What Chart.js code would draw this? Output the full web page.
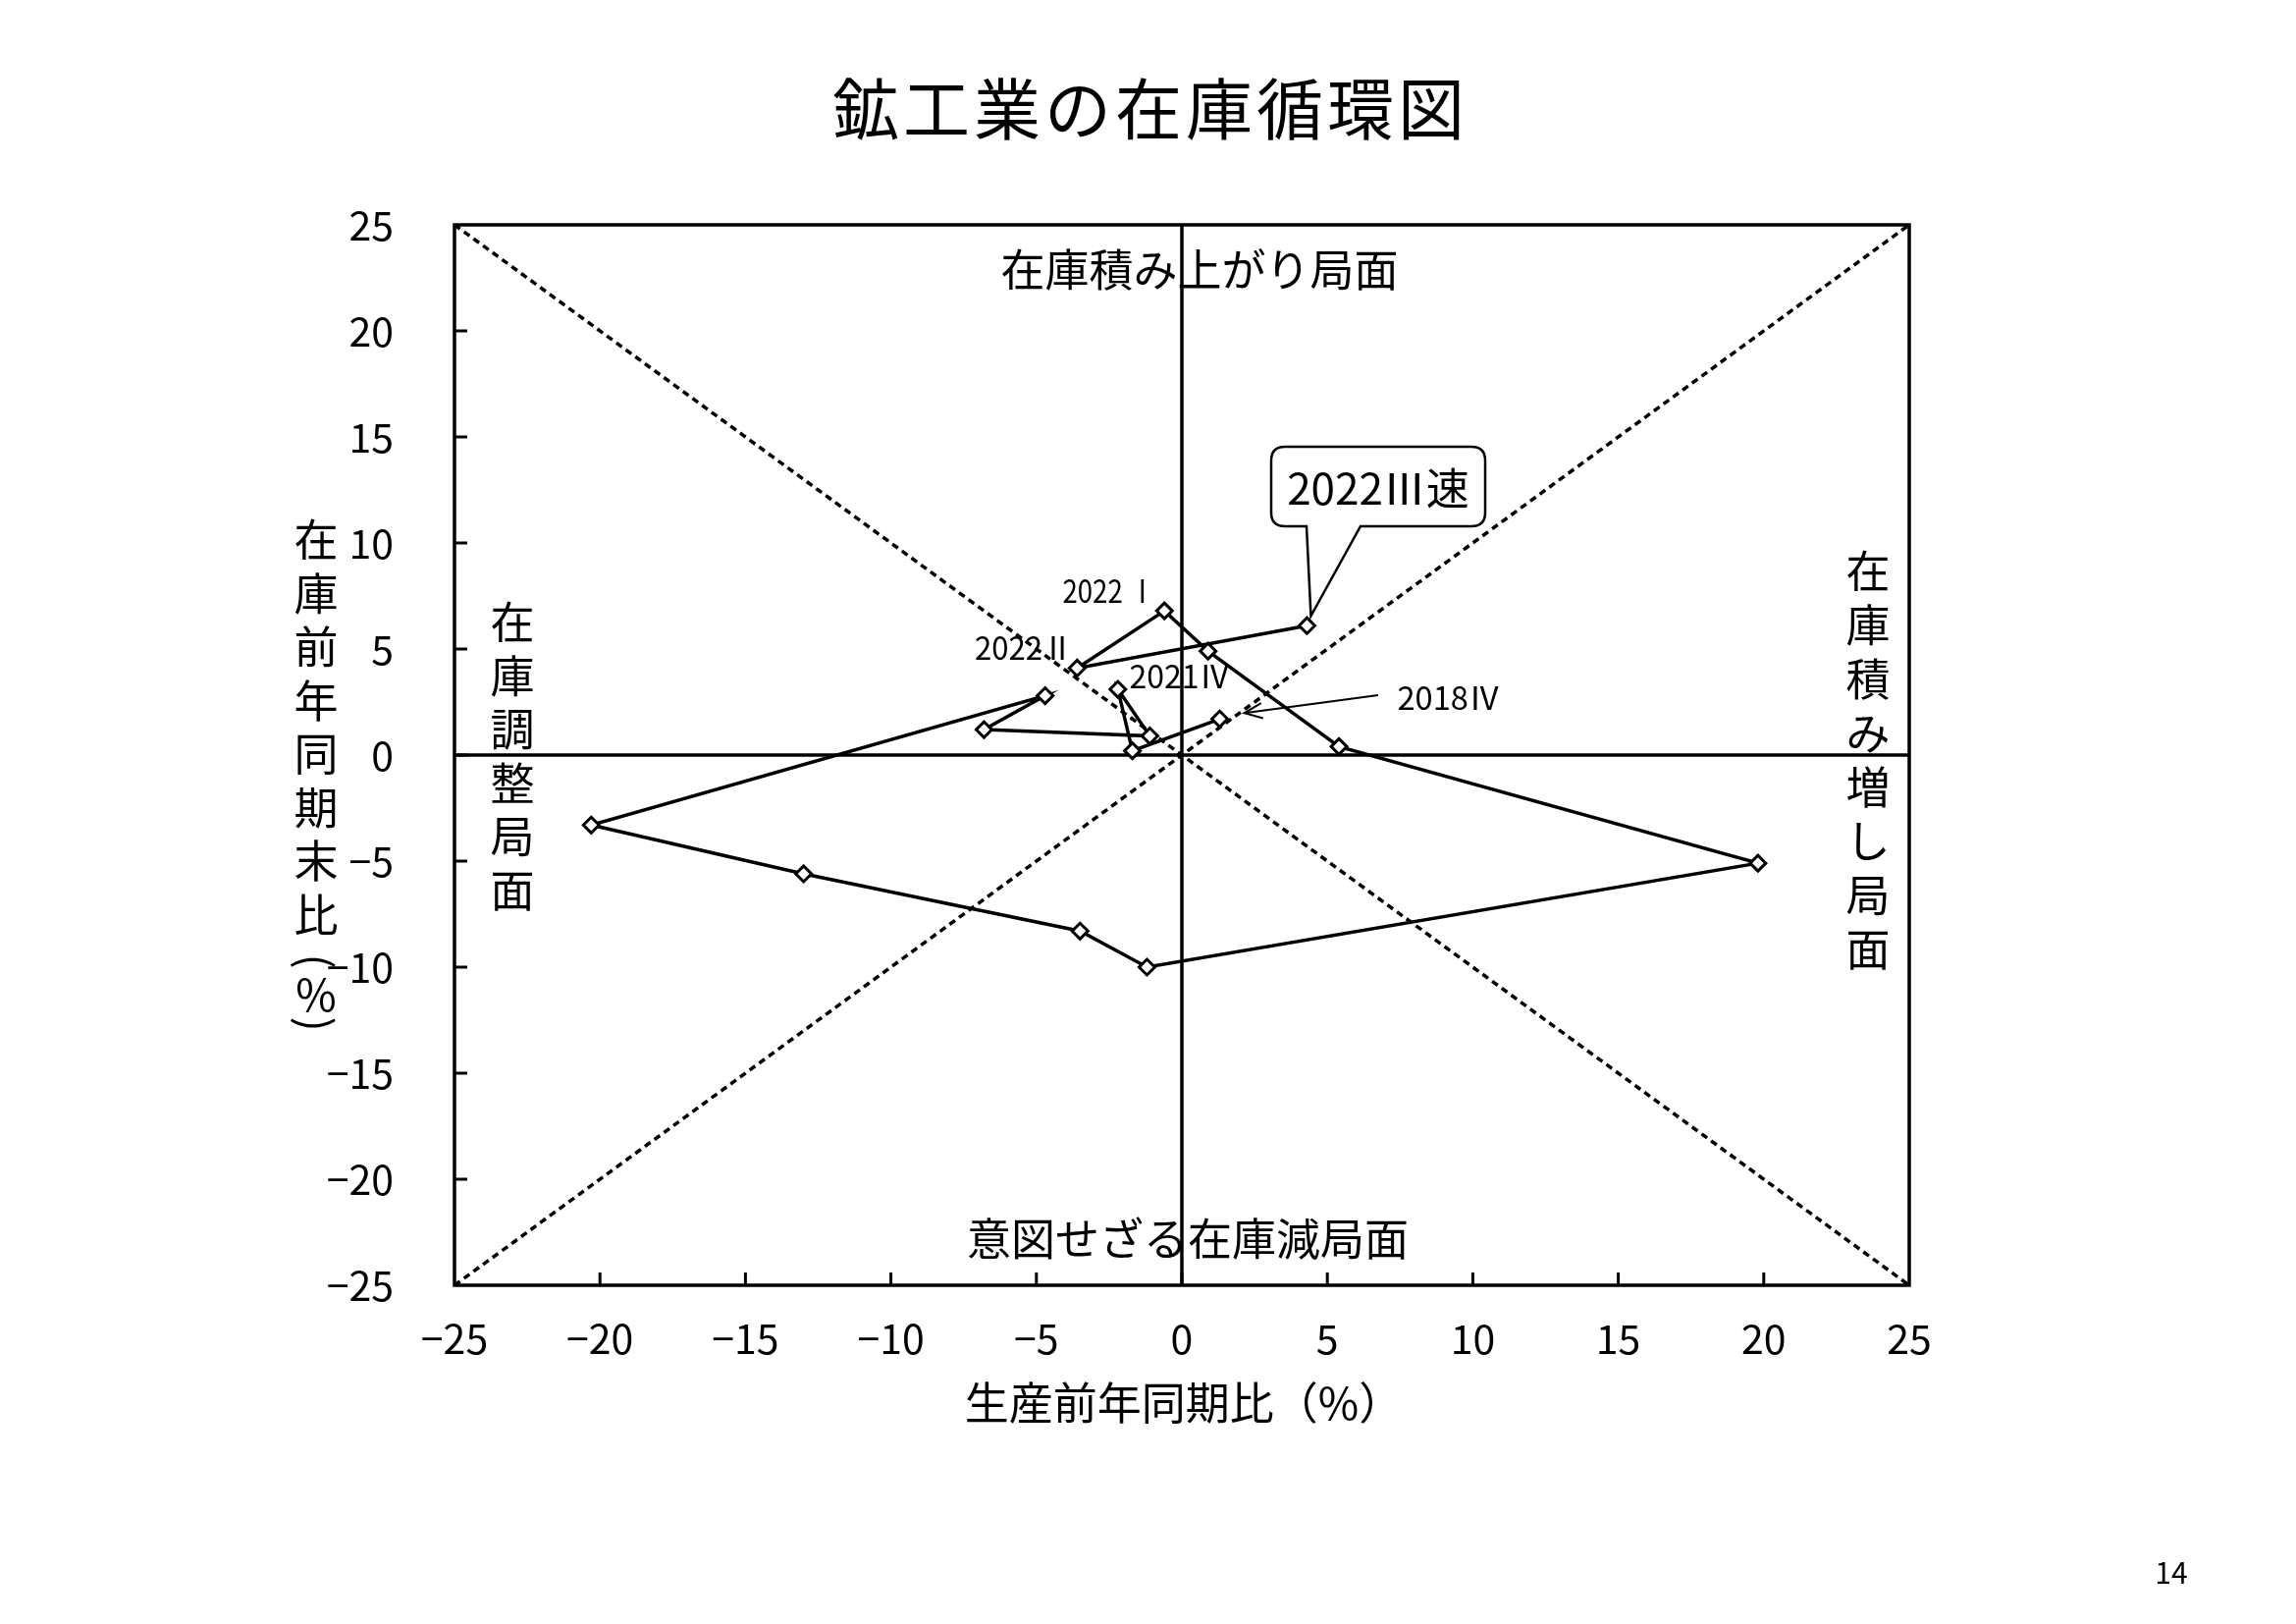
<!DOCTYPE html>
<html>
<head>
<meta charset="utf-8">
<script src="https://cdn.jsdelivr.net/npm/chart.js@4.4.0/dist/chart.umd.min.js"></script>
<style>
html, body { margin: 0; padding: 0; background: #fff; }
canvas { display: block; }
</style>
</head>
<body>
<canvas id="chart" width="2339" height="1654"></canvas>
<script>
// --- DATA ---
const quarters = ['2018Ⅳ', '2019Ⅰ', '2019Ⅱ', '2019Ⅲ', '2019Ⅳ', '2020Ⅰ', '2020Ⅱ', '2020Ⅲ',
                  '2020Ⅳ', '2021Ⅰ', '2021Ⅱ', '2021Ⅲ', '2021Ⅳ', '2022Ⅰ', '2022Ⅱ', '2022Ⅲ'];
const production = [1.3, -1.7, -2.2, -1.1, -6.8, -4.7, -20.3, -13.0, -3.5, -1.2, 19.8, 5.4, 0.9, -0.6, -3.6, 4.3];
const inventory  = [1.7, 0.2, 3.1, 0.9, 1.2, 2.8, -3.3, -5.6, -8.3, -10.0, -5.1, 0.4, 4.9, 6.8, 4.1, 6.1];
const axisMin = -25;
const axisMax = 25;
const axisStep = 5;

const FONT = "'Noto Sans CJK JP', 'Noto Sans', sans-serif";

// --- HELPERS ---
function fmtTick(v) {
    return v < 0 ? '\u2212' + Math.abs(v) : String(v);
}

function spaced(ctx, text, cx, cy, pitch) {
    const chars = Array.from(text);
    const x0 = cx - pitch * (chars.length - 1) / 2;
    chars.forEach((ch, i) => ctx.fillText(ch, x0 + i * pitch, cy));
}

function vertical(ctx, text, cx, y0, pitch) {
    Array.from(text).forEach((ch, i) => ctx.fillText(ch, cx, y0 + i * pitch));
}

function fitText(ctx, text, cx, cy, width) {
    const w = ctx.measureText(text).width;
    ctx.save();
    ctx.translate(cx, cy);
    ctx.scale(width / w, 1);
    ctx.fillText(text, 0, 0);
    ctx.restore();
}

function rotated(ctx, ch, cx, cy) {
    ctx.save();
    ctx.translate(cx, cy);
    ctx.rotate(Math.PI / 2);
    ctx.fillText(ch, 0, 0);
    ctx.restore();
}

// --- DECORATION PLUGIN ---
const decor = {
    id: 'decor',
    afterDraw(chart) {
        const { ctx, chartArea: a, scales: { x, y } } = chart;
        ctx.save();
        ctx.fillStyle = '#000';
        ctx.strokeStyle = '#000';

        // frame
        ctx.lineWidth = 3.5;
        ctx.strokeRect(a.left, a.top, a.right - a.left, a.bottom - a.top);

        // inside tick marks
        ctx.lineWidth = 3;
        for (let v = axisMin + axisStep; v < axisMax; v += axisStep) {
            const py = y.getPixelForValue(v);
            ctx.beginPath(); ctx.moveTo(a.left, py); ctx.lineTo(a.left + 13, py); ctx.stroke();
            const px = x.getPixelForValue(v);
            ctx.beginPath(); ctx.moveTo(px, a.bottom); ctx.lineTo(px, a.bottom - 13); ctx.stroke();
        }

        ctx.textAlign = 'center';
        ctx.textBaseline = 'middle';

        // title
        ctx.font = `68px ${FONT}`;
        spaced(ctx, '鉱工業の在庫循環図', 1170, 111, 72);

        // axis titles
        ctx.font = `45px ${FONT}`;
        ctx.fillText('生産前年同期比（%）', 1206, 1429);
        vertical(ctx, '在庫前年同期末比', 322, 550, 54.5);
        rotated(ctx, '(', 322, 979);
        ctx.fillText('%', 322, 1013);
        rotated(ctx, ')', 322, 1043);

        // phase labels
        ctx.fillText('在庫積み上がり局面', 1222, 275);
        ctx.fillText('意図せざる在庫減局面', 1210, 1262);
        vertical(ctx, '在庫調整局面', 522, 634, 54.5);
        vertical(ctx, '在庫積み増し局面', 1903, 582, 55);

        // quarter labels
        ctx.font = `33px ${FONT}`;
        fitText(ctx, '2022 Ⅰ', 1130, 601, 95);
        fitText(ctx, '2022Ⅱ', 1043, 659, 100);
        fitText(ctx, '2021Ⅳ', 1202, 688, 103);
        fitText(ctx, '2018Ⅳ', 1476, 710, 105);

        // arrow to the first quarter
        const p0x = x.getPixelForValue(production[0]) + 25;
        const p0y = y.getPixelForValue(inventory[0]) - 6;
        const sx = 1404, sy = 708;
        const ang = Math.atan2(p0y - sy, p0x - sx);
        ctx.lineWidth = 2;
        ctx.beginPath(); ctx.moveTo(sx, sy); ctx.lineTo(p0x, p0y); ctx.stroke();
        ctx.beginPath();
        ctx.moveTo(p0x - 20 * Math.cos(ang - 0.4), p0y - 20 * Math.sin(ang - 0.4));
        ctx.lineTo(p0x, p0y);
        ctx.lineTo(p0x - 20 * Math.cos(ang + 0.4), p0y - 20 * Math.sin(ang + 0.4));
        ctx.stroke();

        // callout for the latest quarter
        const last = production.length - 1;
        const tx = x.getPixelForValue(production[last]) + 4;
        const ty = y.getPixelForValue(inventory[last]) - 10;
        const bx0 = 1295, by0 = 455, bx1 = 1513, by1 = 536, r = 14;
        ctx.beginPath();
        ctx.moveTo(bx0 + r, by0);
        ctx.lineTo(bx1 - r, by0);
        ctx.quadraticCurveTo(bx1, by0, bx1, by0 + r);
        ctx.lineTo(bx1, by1 - r);
        ctx.quadraticCurveTo(bx1, by1, bx1 - r, by1);
        ctx.lineTo(1386, by1);
        ctx.lineTo(tx, ty);
        ctx.lineTo(1331, by1);
        ctx.lineTo(bx0 + r, by1);
        ctx.quadraticCurveTo(bx0, by1, bx0, by1 - r);
        ctx.lineTo(bx0, by0 + r);
        ctx.quadraticCurveTo(bx0, by0, bx0 + r, by0);
        ctx.closePath();
        ctx.fillStyle = '#fff';
        ctx.fill();
        ctx.lineWidth = 2.5;
        ctx.stroke();
        ctx.fillStyle = '#000';
        ctx.font = `44px ${FONT}`;
        ctx.fillText('2022Ⅲ速', 1404, 497);

        // page number
        ctx.font = `30px ${FONT}`;
        ctx.fillText('14', 2212, 1602);

        ctx.restore();
    }
};

// --- CHART ---
const series = production.map((p, i) => ({ x: p, y: inventory[i] }));

new Chart(document.getElementById('chart'), {
    type: 'scatter',
    data: {
        datasets: [
            {
                label: '在庫循環',
                data: series,
                showLine: true,
                borderColor: '#000',
                borderWidth: 3.5,
                pointStyle: 'rectRot',
                pointRadius: 8,
                pointBorderWidth: 3,
                pointBackgroundColor: '#fff',
                pointBorderColor: '#000'
            },
            { data: [{ x: 0, y: axisMin }, { x: 0, y: axisMax }], showLine: true, borderColor: '#000', borderWidth: 3.5, pointRadius: 0 },
            { data: [{ x: axisMin, y: 0 }, { x: axisMax, y: 0 }], showLine: true, borderColor: '#000', borderWidth: 3.5, pointRadius: 0 },
            { data: [{ x: axisMin, y: axisMax }, { x: axisMax, y: axisMin }], showLine: true, borderColor: '#000', borderWidth: 3.5, borderDash: [7, 5], pointRadius: 0 },
            { data: [{ x: axisMin, y: axisMin }, { x: axisMax, y: axisMax }], showLine: true, borderColor: '#000', borderWidth: 3.5, borderDash: [7, 5], pointRadius: 0 }
        ]
    },
    options: {
        responsive: false,
        devicePixelRatio: 1,
        animation: false,
        layout: { padding: { top: 229, right: 394, bottom: 0, left: 0 } },
        plugins: { legend: { display: false }, tooltip: { enabled: false } },
        scales: {
            x: {
                type: 'linear', min: axisMin, max: axisMax,
                grid: { display: false },
                border: { display: false },
                ticks: { stepSize: axisStep, color: '#000', padding: 22, font: { family: FONT, size: 41 }, callback: fmtTick },
                afterFit: s => { s.height = 345; }
            },
            y: {
                type: 'linear', min: axisMin, max: axisMax,
                grid: { display: false },
                border: { display: false },
                ticks: { stepSize: axisStep, color: '#000', padding: 54, font: { family: FONT, size: 41 }, callback: fmtTick },
                afterFit: s => { s.width = 463; }
            }
        }
    },
    plugins: [decor]
});
</script>
</body>
</html>
